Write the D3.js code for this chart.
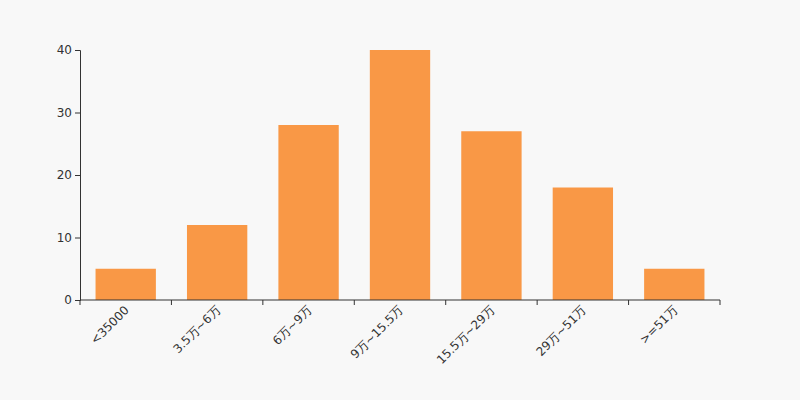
<!DOCTYPE html>
<html>
<head>
<meta charset="utf-8">
<script src="https://cdn.jsdelivr.net/npm/d3@7"></script>
<style>
  body { margin: 0; background: #f8f8f8; }
  svg text { font-family: "DejaVu Sans", sans-serif; font-size: 12px; fill: #333; }
</style>
</head>
<body>
<svg id="chart" width="800" height="400"></svg>
<script>
// categories and counts
const categories = ["<35000", "3.5万~6万", "6万~9万", "9万~15.5万", "15.5万~29万", "29万~51万", ">=51万"];
const counts = [5, 12, 28, 40, 27, 18, 5];
const yTicks = [0, 10, 20, 30, 40];

let margin = {top: 50, right: 80, bottom: 100, left: 80},
    width = 800 - margin.left - margin.right,
    height = 400 - margin.top - margin.bottom;

let svg = d3.select("#chart");
svg.append("rect").attr("width", 800).attr("height", 400).attr("fill", "#f8f8f8");

let g = svg.append("g").attr("transform", "translate(" + margin.left + "," + margin.top + ")");

let x = d3.scaleBand().domain(categories).range([0, width]).paddingInner(0.34).paddingOuter(0.17);
let y = d3.scaleLinear().domain([0, 40]).range([height, 0]);

// bars
g.selectAll("rect.bar")
    .data(categories)
    .enter()
    .append("rect")
    .attr("class", "bar")
    .attr("x", d => x(d))
    .attr("width", x.bandwidth())
    .attr("y", (d, i) => y(counts[i]))
    .attr("height", (d, i) => height - y(counts[i]))
    .attr("fill", "#f99846");

// y axis
let yAxis = g.append("g")
    .call(d3.axisLeft(y).tickValues(yTicks).tickSize(5).tickPadding(3));
yAxis.selectAll("line, path").attr("stroke", "#333");

// x axis: labels under band centres, ticks on band edges
let xAxis = g.append("g").attr("transform", "translate(0," + height + ")");
xAxis.append("line").attr("x1", 0).attr("x2", width).attr("stroke", "#333");
let edges = categories.map(d => x(d) - x.step() * x.paddingInner() / 2).concat([width]);
xAxis.selectAll("line.tick")
    .data(edges)
    .enter()
    .append("line")
    .attr("class", "tick")
    .attr("x1", d => d).attr("x2", d => d)
    .attr("y1", 0).attr("y2", 5)
    .attr("stroke", "#333");

xAxis.selectAll("text")
    .data(categories)
    .enter()
    .append("text")
    .attr("transform", d => "translate(" + (x(d) + x.bandwidth() / 2 + 1) + ",8) rotate(-45)")
    .attr("text-anchor", "end")
    .attr("dy", "0.35em")
    .text(d => d);
</script>
</body>
</html>
